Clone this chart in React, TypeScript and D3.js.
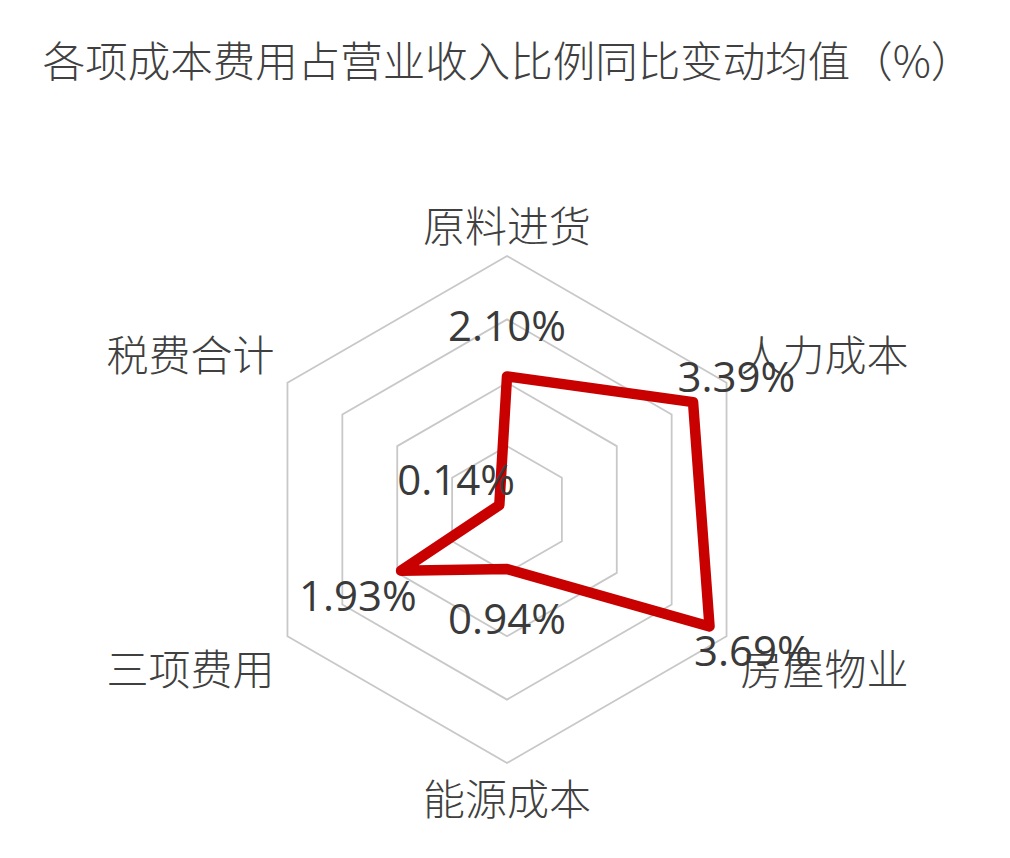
// Radar chart: year-on-year change of each cost item as share of revenue (%).
// Six axes, 0–4 scale with hexagonal rings at every unit, a single thick red series.
import * as d3 from "d3";

const TITLE = "各项成本费用占营业收入比例同比变动均值（%）";
const categories = ["原料进货", "人力成本", "房屋物业", "能源成本", "三项费用", "税费合计"];
const values = [2.1, 3.39, 3.69, 0.94, 1.93, 0.14];
const ringLevels = [1, 2, 3, 4];

const W = 1010;
const H = 858;
const CX = 507;
const CY = 509.5;
const R = 253.5;
const CJK = `"Noto Sans CJK SC", "Noto Sans", sans-serif`;
const NUM = `"Open Sans", "Noto Sans", sans-serif`;
const INK = "#404040";

export default function App() {
  const r = d3.scaleLinear().domain([0, 4]).range([0, R]);
  const ang = d3.scaleLinear().domain([0, categories.length]).range([0, 2 * Math.PI]);

  const ring = (level: number) =>
    d3
      .lineRadial<string>()
      .angle((_d, i) => ang(i))
      .radius(() => r(level))
      .curve(d3.curveLinearClosed)(categories) ?? "";

  const series =
    d3
      .lineRadial<number>()
      .angle((_d, i) => ang(i))
      .radius((d) => r(d))
      .curve(d3.curveLinearClosed)(values) ?? "";

  const fmt = (v: number) => `${v.toFixed(2)}%`;

  return (
    <svg
      width={W}
      height={H}
      viewBox={`0 0 ${W} ${H}`}
      style={{ position: "absolute", left: 0, top: 0, background: "#fff" }}
    >
      <text
        x={508}
        y={58}
        textAnchor="middle"
        dominantBaseline="central"
        fontFamily={CJK}
        fontWeight={300}
        fontSize={42.5}
        fill={INK}
      >
        {TITLE}
      </text>

      <g transform={`translate(${CX},${CY})`}>
        {/* hexagonal rings */}
        {ringLevels.map((lv) => (
          <path key={lv} d={ring(lv)} fill="none" stroke="#c8c8c8" strokeWidth={1.8} />
        ))}

        {/* series */}
        <path d={series} fill="none" stroke="#c80000" strokeWidth={10.5} strokeLinejoin="round" />

        {/* category labels outside the outer ring */}
        {categories.map((c, i) => {
          const [vx, vy] = d3.pointRadial(ang(i), R);
          const s = Math.sin(ang(i));
          const cy = Math.cos(ang(i));
          let x = vx;
          let y = vy;
          let anchor: "start" | "middle" | "end" = "middle";
          if (Math.abs(s) < 1e-6) {
            y = vy + (cy > 0 ? -33 : 33);
          } else {
            anchor = s > 0 ? "start" : "end";
            x = vx + (s > 0 ? 14 : -13);
            y = vy + (cy > 0 ? -30 : 30);
          }
          return (
            <text
              key={c}
              x={x}
              y={y}
              textAnchor={anchor}
              dominantBaseline="central"
              fontFamily={CJK}
              fontWeight={300}
              fontSize={42}
              fill={INK}
            >
              {c}
            </text>
          );
        })}

        {/* data labels, pushed outward along each axis */}
        {values.map((v, i) => {
          const [lx, ly] = d3.pointRadial(ang(i), r(v) + 50);
          return (
            <text
              key={i}
              x={lx}
              y={ly + 15}
              textAnchor="middle"
              fontFamily={NUM}
              fontSize={42}
              fill="#3a3a3a"
            >
              {fmt(v)}
            </text>
          );
        })}
      </g>
    </svg>
  );
}
